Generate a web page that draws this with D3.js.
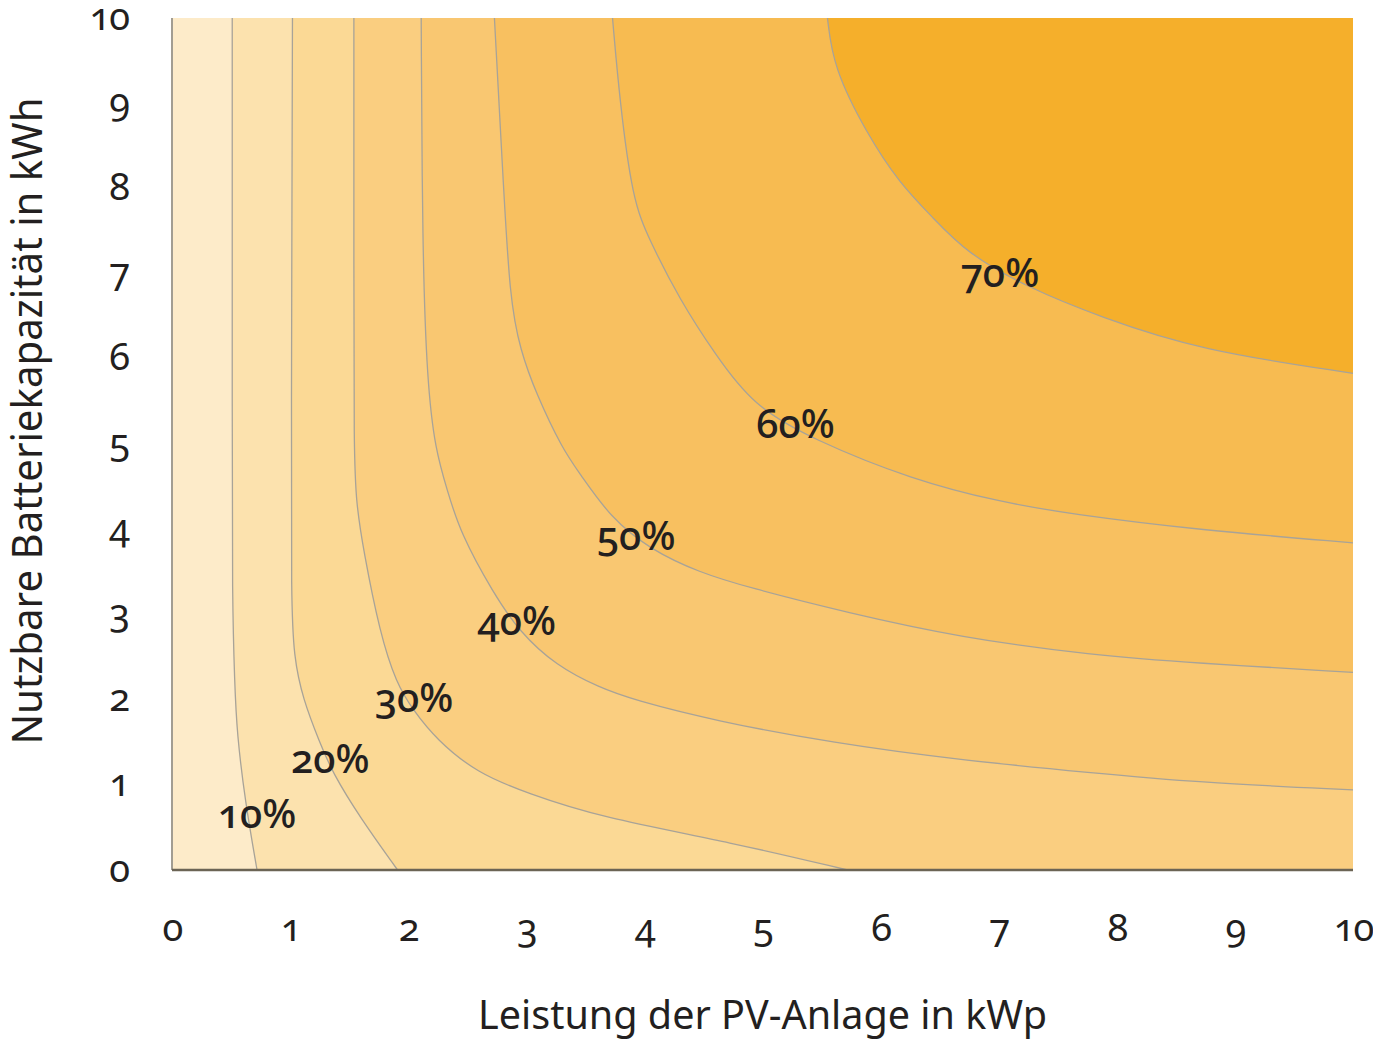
<!DOCTYPE html>
<html>
<head>
<meta charset="utf-8">
<script src="https://cdn.jsdelivr.net/npm/d3@7/dist/d3.min.js"></script>
<style>
  body { margin: 0; background: #fff; }
  text { font-family: "Noto Sans", sans-serif; font-variant-numeric: oldstyle-nums; fill: #231f20; }
</style>
</head>
<body>
<svg id="chart" width="1373" height="1041"></svg>
<script>
/*
  Autarkiegrad: contour bands over PV power (x) and battery capacity (y)
*/

// contour levels (%) and the fill of each band, lowest first
const levels = [10, 20, 30, 40, 50, 60, 70];
const bandColors = ['#fdebc9', '#fce2ae', '#fbd995', '#face80', '#f9c771', '#f8c060', '#f7bb51', '#f5af2b'];

// contour lines, [kWp, kWh]
const line10 = [[0.51, 10], [0.51, 5], [0.51, 3.2], [0.53, 2.2], [0.55, 1.6], [0.62, 0.8], [0.72, 0]];
const line20 = [[1.02, 10], [1.01, 5], [1.01, 3.2], [1.03, 2.5], [1.11, 2.0], [1.25, 1.5], [1.36, 1.14], [1.59, 0.62], [1.91, 0]];
const line30 = [[1.54, 10], [1.54, 7], [1.54, 4.9], [1.56, 4.3], [1.62, 3.76], [1.76, 2.78], [1.9, 2.19],
  [2.04, 1.88], [2.24, 1.53], [2.58, 1.14], [3.01, 0.9], [3.62, 0.62], [4.75, 0.32], [5.72, 0]];
const line40 = [[2.11, 10], [2.12, 7.28], [2.16, 5.72], [2.23, 4.93], [2.33, 4.46], [2.44, 3.96], [2.72, 3.25],
  [2.94, 2.8], [3.25, 2.4], [3.62, 2.14], [3.9, 2.0], [4.6, 1.75], [5.6, 1.49], [6.67, 1.29], [7.8, 1.14], [8.65, 1.03], [10, 0.94]];
const line50 = [[2.73, 10], [2.8, 8.2], [2.86, 6.69], [2.95, 6.1], [3.08, 5.6], [3.31, 4.93], [3.45, 4.66], [3.71, 4.14],
  [4.05, 3.76], [4.47, 3.49], [4.87, 3.32], [5.72, 3.02], [6.67, 2.73], [7.8, 2.52], [8.65, 2.43], [10, 2.32]];
const line60 = [[3.73, 10], [3.79, 9.04], [3.9, 7.86], [4.04, 7.4], [4.3, 6.69], [4.6, 6.05], [4.92, 5.45],
  [5.43, 5.05], [6.27, 4.58], [7.01, 4.32], [7.6, 4.18], [8.7, 3.99], [10, 3.84]];
const line70 = [[5.55, 10], [5.6, 9.42], [5.88, 8.65], [6.16, 8.06], [6.44, 7.66], [6.73, 7.24], [7.24, 6.84],
  [7.86, 6.49], [8.7, 6.1], [10, 5.83]];
const contourLines = [line10, line20, line30, line40, line50, line60, line70];

// where each level label sits (centre x, baseline y), in axis units
const labelPos = [[0.72, 0.49], [1.34, 1.14], [2.05, 1.85], [2.92, 2.76], [3.93, 3.76], [5.28, 5.07], [7.01, 6.84]];

// axes
const xTicks = [0, 1, 2, 3, 4, 5, 6, 7, 8, 9, 10];
const yTicks = [0, 1, 2, 3, 4, 5, 6, 7, 8, 9, 10];
const xTitle = 'Leistung der PV-Anlage in kWp';
const yTitle = 'Nutzbare Batteriekapazität in kWh';

const margin = { left: 172, right: 20, top: 18, bottom: 171 };
const WIDTH = 1373, HEIGHT = 1041;

const svg = d3.select('#chart');

const scale = {};
scale.x = d3.scaleLinear().domain([0, 10]).range([margin.left, WIDTH - margin.right]);
scale.y = d3.scaleLinear().domain([0, 10]).range([HEIGHT - margin.bottom, margin.top]);

// basis spline keeps the bends soft, like the printed contours
const line = d3.line()
  .x(d => scale.x(d[0]))
  .y(d => scale.y(d[1]))
  .curve(d3.curveBasis);

/*
 * Bands: base rect, then for each level the region above its line
 */
svg.append('rect')
  .attr('x', scale.x(0))
  .attr('y', scale.y(10))
  .attr('width', scale.x(10) - scale.x(0))
  .attr('height', scale.y(0) - scale.y(10))
  .attr('fill', bandColors[0]);

svg.append('g').selectAll('path')
  .data(contourLines)
  .join('path')
  .attr('fill', (d, i) => bandColors[i + 1])
  .attr('d', d => {
    const last = d[d.length - 1];
    let closing = '';
    if (last[1] === 0) closing += `L${scale.x(10)},${scale.y(0)}`;
    closing += `L${scale.x(10)},${scale.y(10)}Z`;
    return line(d) + closing;
  });

svg.append('g').selectAll('path')
  .data(contourLines)
  .join('path')
  .attr('fill', 'none')
  .attr('stroke', '#a8a398')
  .attr('stroke-width', 1.3)
  .attr('d', line);

/*
 * Axes
 */
const axis = {};
axis.x = d3.axisBottom(scale.x).tickValues(xTicks).tickSize(0).tickFormat(d3.format('d'));
axis.y = d3.axisLeft(scale.y).tickValues(yTicks).tickSize(0).tickFormat(d3.format('d'));

const gx = svg.append('g')
  .attr('transform', `translate(0, ${scale.y(0)})`)
  .call(axis.x);
gx.select('.domain').remove();
gx.selectAll('text')
  .attr('y', 71)
  .attr('dy', 0)
  .style('font-size', '38px')
  .style('letter-spacing', '-1px')
  .style('font-family', '"Noto Sans", sans-serif');

const gy = svg.append('g')
  .attr('transform', `translate(${scale.x(0)}, 0)`)
  .call(axis.y);
gy.select('.domain').remove();
gy.selectAll('text')
  .attr('x', -43)
  .attr('dy', 11)
  .style('font-size', '38px')
  .style('letter-spacing', '-1px')
  .style('font-family', '"Noto Sans", sans-serif');

// frame lines: left thin grey, bottom darker
svg.append('line')
  .attr('x1', scale.x(0)).attr('x2', scale.x(0))
  .attr('y1', scale.y(10)).attr('y2', scale.y(0))
  .attr('stroke', '#a29d92').attr('stroke-width', 2);
svg.append('line')
  .attr('x1', scale.x(0)).attr('x2', scale.x(10))
  .attr('y1', scale.y(0)).attr('y2', scale.y(0))
  .attr('stroke', '#6b6455').attr('stroke-width', 2.5);

// level labels
svg.append('g').selectAll('text')
  .data(levels)
  .join('text')
  .attr('x', (d, i) => scale.x(labelPos[i][0]))
  .attr('y', (d, i) => scale.y(labelPos[i][1]))
  .attr('text-anchor', 'middle')
  .style('font-size', '40px')
  .style('font-weight', 500)
  .text(d => `${d}%`);

// titles
svg.append('text')
  .attr('x', (scale.x(0) + scale.x(10)) / 2)
  .attr('y', 1029)
  .attr('text-anchor', 'middle')
  .attr('textLength', 569)
  .attr('lengthAdjust', 'spacingAndGlyphs')
  .style('font-size', '40px')
  .text(xTitle);

svg.append('text')
  .attr('transform', `translate(42, 421) rotate(-90)`)
  .attr('text-anchor', 'middle')
  .attr('textLength', 647)
  .attr('lengthAdjust', 'spacingAndGlyphs')
  .style('font-size', '41px')
  .text(yTitle);
</script>
</body>
</html>
